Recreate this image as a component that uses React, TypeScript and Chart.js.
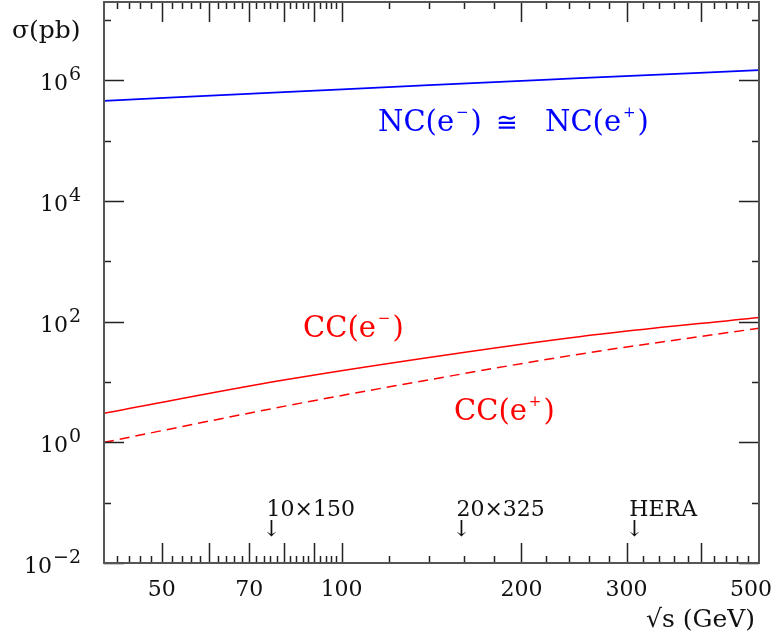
import React, { useEffect, useRef } from "react";
import { Chart, registerables } from "chart.js";

Chart.register(...registerables);

// ---- data ----
const sqrtS = [40, 80, 140, 250, 500];
const ncCross = [4.6e5, 6.4e5, 8.4e5, 1.09e6, 1.48e6];
const ccEminus = [3.05, 10.8, 25.6, 56.6, 118];
const ccEplus = [1.0, 3.95, 10.9, 29.0, 78];

// ---- axes ----
const xMin = 40;
const xMax = 500;
const yMin = 1e-2;
const yMax = 2e7;
const xMajorTicks = [50, 60, 70, 80, 90, 100, 200, 300, 400];
const xMinorTicks = [
  42, 44, 46, 48, 52, 54, 56, 58, 62, 64, 66, 68, 72, 74, 76, 78, 82, 84, 86, 88, 92, 94, 96, 98,
  120, 140, 160, 180, 220, 240, 260, 280, 320, 340, 360, 380, 420, 440, 460, 480,
];
const xTickLabels = [50, 70, 100, 200, 300, 500];
const yMajorExponents = [-2, 0, 2, 4, 6];
const yMinorExponents = [-1, 1, 3, 5, 7];

// ---- markers of beam configurations ----
const markerLabels = ["10×150", "20×325", "HERA"];
const markerSqrtS = [77.5, 161.2, 314];

const FONT = '"DejaVu Serif", "Liberation Serif", serif';

type Part = { t: string; size: number; rise?: number; pad?: number };

function fnt(size: number) {
  return `${size}px ${FONT}`;
}

function measureRich(ctx: CanvasRenderingContext2D, parts: Part[]) {
  return parts.map((p) => {
    ctx.font = fnt(p.size);
    return ctx.measureText(p.t).width + (p.pad || 0) * 2;
  });
}

function drawRich(
  ctx: CanvasRenderingContext2D,
  parts: Part[],
  x: number,
  y: number,
  align: "left" | "right" | "center",
  color: string,
  maxRight?: number
) {
  const widths = measureRich(ctx, parts);
  const total = widths.reduce((a, b) => a + b, 0);
  let cx = align === "right" ? x - total : align === "center" ? x - total / 2 : x;
  if (maxRight !== undefined && cx + total > maxRight) cx = maxRight - total;
  parts.forEach((p, i) => {
    ctx.save();
    ctx.font = fnt(p.size);
    ctx.fillStyle = color;
    ctx.textAlign = "left";
    ctx.textBaseline = "alphabetic";
    ctx.fillText(p.t, cx + (p.pad || 0), y - (p.rise || 0));
    ctx.restore();
    cx += widths[i];
  });
}

const framePlugin = {
  id: "framePlugin",
  afterDraw(chart: any) {
    const ctx: CanvasRenderingContext2D = chart.ctx;
    const { left, right, top, bottom } = chart.chartArea;
    const xs = chart.scales.x;
    const ys = chart.scales.y;
    ctx.save();

    // ticks
    ctx.strokeStyle = "#222";
    ctx.lineWidth = 1.5;
    const vTick = (v: number, len: number) => {
      const px = Math.round(xs.getPixelForValue(v)) + 0.5;
      ctx.beginPath();
      ctx.moveTo(px, bottom);
      ctx.lineTo(px, bottom - len);
      ctx.moveTo(px, top);
      ctx.lineTo(px, top + len);
      ctx.stroke();
    };
    const hTick = (v: number, len: number) => {
      const py = Math.round(ys.getPixelForValue(v)) + 0.5;
      ctx.beginPath();
      ctx.moveTo(left, py);
      ctx.lineTo(left + len, py);
      ctx.moveTo(right, py);
      ctx.lineTo(right - len, py);
      ctx.stroke();
    };
    xMajorTicks.forEach((v) => vTick(v, 20));
    xMinorTicks.forEach((v) => vTick(v, 7));
    yMajorExponents.forEach((e) => hTick(Math.pow(10, e), 20));
    yMinorExponents.forEach((e) => hTick(Math.pow(10, e), 7));

    // frame
    ctx.strokeStyle = "#555";
    ctx.lineWidth = 2;
    ctx.strokeRect(left, top, right - left, bottom - top);

    // x tick labels
    xTickLabels.forEach((v) => {
      const px = xs.getPixelForValue(v);
      drawRich(ctx, [{ t: String(v), size: 22 }], px, bottom + 33, "center", "#111", right + 13);
    });

    // y tick labels
    yMajorExponents.forEach((e) => {
      const py = ys.getPixelForValue(Math.pow(10, e));
      const sup = e < 0 ? "−" + Math.abs(e) : String(e);
      drawRich(
        ctx,
        [
          { t: "10", size: 22 },
          { t: sup, size: 19, rise: 10, pad: 1 },
        ],
        82,
        py + 10,
        "right",
        "#111"
      );
    });

    // axis titles
    drawRich(ctx, [{ t: "σ(pb)", size: 25 }], 12, 38, "left", "#111");
    drawRich(ctx, [{ t: "√s (GeV)", size: 25 }], 755, 627, "right", "#111");

    // markers
    markerLabels.forEach((lab, i) => {
      const px = xs.getPixelForValue(markerSqrtS[i]);
      drawRich(ctx, [{ t: lab, size: 22 }], px - 9, 516, "left", "#111");
      drawRich(ctx, [{ t: "↓", size: 22 }], px - 4, 536, "center", "#111");
    });

    // curve labels
    const sup = (t: string): Part => ({ t, size: 15, rise: 14, pad: 2 });
    drawRich(ctx, [{ t: "NC(e", size: 29 }, sup("−"), { t: ")", size: 29 }], 378, 131, "left", "#0000ff");
    drawRich(ctx, [{ t: "≅", size: 26 }], 507, 131, "center", "#0000ff");
    drawRich(ctx, [{ t: "NC(e", size: 29 }, sup("+"), { t: ")", size: 29 }], 545, 131, "left", "#0000ff");
    drawRich(ctx, [{ t: "CC(e", size: 29 }, sup("−"), { t: ")", size: 29 }], 303, 337, "left", "#ff0000");
    drawRich(ctx, [{ t: "CC(e", size: 29 }, sup("+"), { t: ")", size: 29 }], 454, 420, "left", "#ff0000");

    ctx.restore();
  },
};

export default function App() {
  const ref = useRef<HTMLCanvasElement | null>(null);

  useEffect(() => {
    if (!ref.current) return;
    const mk = (ys: number[]) => sqrtS.map((x, i) => ({ x, y: ys[i] }));
    const chart = new Chart(ref.current, {
      type: "line",
      data: {
        datasets: [
          {
            label: "NC",
            data: mk(ncCross),
            borderColor: "#0000ff",
            borderWidth: 1.7,
            pointRadius: 0,
            cubicInterpolationMode: "monotone",
          },
          {
            label: "CC(e-)",
            data: mk(ccEminus),
            borderColor: "#ff0000",
            borderWidth: 1.5,
            pointRadius: 0,
            cubicInterpolationMode: "monotone",
          },
          {
            label: "CC(e+)",
            data: mk(ccEplus),
            borderColor: "#ff0000",
            borderWidth: 1.5,
            borderDash: [10, 6],
            pointRadius: 0,
            cubicInterpolationMode: "monotone",
          },
        ],
      },
      options: {
        animation: false,
        responsive: false,
        events: [],
        layout: { padding: { left: 104, right: 24, top: 2, bottom: 77 } },
        plugins: { legend: { display: false }, tooltip: { enabled: false } },
        scales: {
          x: { type: "logarithmic", min: xMin, max: xMax, display: false },
          y: { type: "logarithmic", min: yMin, max: yMax, display: false },
        },
      } as any,
      plugins: [framePlugin],
    });
    return () => chart.destroy();
  }, []);

  return (
    <div style={{ position: "absolute", left: 0, top: 0, width: 783, height: 640, background: "#fff" }}>
      <canvas ref={ref} width={783} height={640} style={{ width: 783, height: 640, display: "block" }} />
    </div>
  );
}
